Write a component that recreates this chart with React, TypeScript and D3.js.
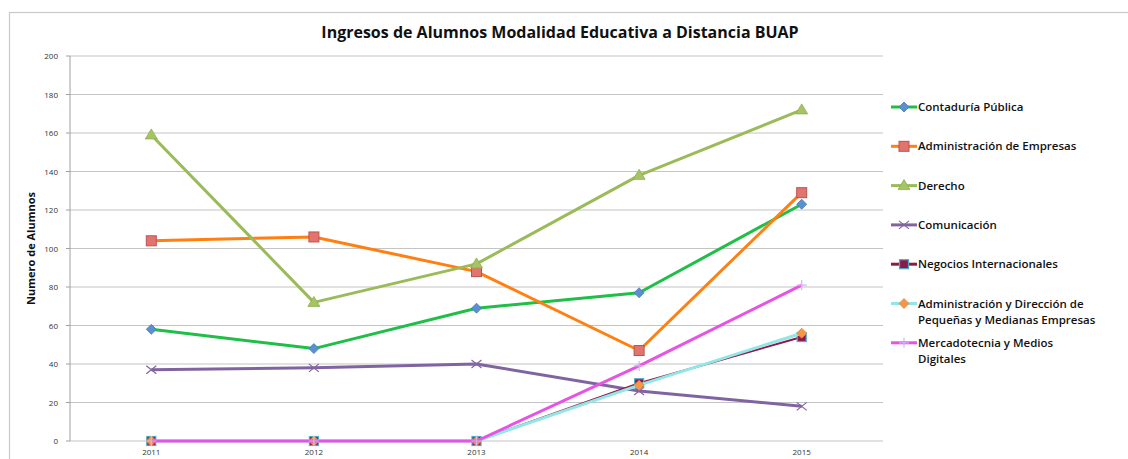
import React from "react";
import * as d3 from "d3";

const years = ["2011", "2012", "2013", "2014", "2015"];
const yTicks = [0, 20, 40, 60, 80, 100, 120, 140, 160, 180, 200];
const seriesNames = [
  "Contaduría Pública",
  "Administración de Empresas",
  "Derecho",
  "Comunicación",
  "Negocios Internacionales",
  "Administración y Dirección de Pequeñas y Medianas Empresas",
  "Mercadotecnia y Medios Digitales",
];
const contaduria = [58, 48, 69, 77, 123];
const administracion = [104, 106, 88, 47, 129];
const derecho = [159, 72, 92, 138, 172];
const comunicacion = [37, 38, 40, 26, 18];
const negocios = [0, 0, 0, 30, 54];
const adminPymes = [0, 0, 0, 29, 56];
const mercadotecnia = [0, 0, 0, 39, 81];
const legendLines = [
  ["Contaduría Pública"],
  ["Administración de Empresas"],
  ["Derecho"],
  ["Comunicación"],
  ["Negocios Internacionales"],
  ["Administración y Dirección de", "Pequeñas y Medianas Empresas"],
  ["Mercadotecnia y Medios", "Digitales"],
];

type Style = { line: string; width: number; marker: string; fill: string; stroke: string };
const styles: Style[] = [
  { line: "#1fbf47", width: 3, marker: "diamond", fill: "#5b8fd0", stroke: "#4a78b5" },
  { line: "#ff8011", width: 3, marker: "square", fill: "#e2746f", stroke: "#c0504d" },
  { line: "#9bbb59", width: 3, marker: "triangle", fill: "#a6c465", stroke: "#8eae4c" },
  { line: "#8064a2", width: 3, marker: "x", fill: "none", stroke: "#8064a2" },
  { line: "#8e1a4c", width: 2, marker: "square2", fill: "#8e1a4c", stroke: "#4bacc6" },
  { line: "#92e6e6", width: 3, marker: "diamond", fill: "#f79646", stroke: "#e8883c" },
  { line: "#e753e4", width: 3, marker: "plus", fill: "none", stroke: "#c9b8f0" },
];
const data = [contaduria, administracion, derecho, comunicacion, negocios, adminPymes, mercadotecnia];

const W = 1128, H = 459;
const M = { left: 70, right: 883, top: 56, bottom: 441 };
const FONT = "'Open Sans', 'Liberation Sans', sans-serif";

function Marker({ type, x, y, s }: { type: string; x: number; y: number; s: Style }) {
  const r = 5;
  if (type === "diamond")
    return <path d={`M${x},${y - r}L${x + r},${y}L${x},${y + r}L${x - r},${y}Z`} fill={s.fill} stroke={s.stroke} strokeWidth={0.8} />;
  if (type === "square")
    return <rect x={x - 5} y={y - 5} width={10} height={10} fill={s.fill} stroke={s.stroke} strokeWidth={1} />;
  if (type === "square2")
    return <rect x={x - 4.5} y={y - 4.5} width={9} height={9} fill={s.fill} stroke={s.stroke} strokeWidth={1.2} />;
  if (type === "triangle")
    return <path d={`M${x},${y - 6}L${x + 6},${y + 4}L${x - 6},${y + 4}Z`} fill={s.fill} stroke={s.stroke} strokeWidth={0.8} />;
  if (type === "x")
    return <path d={`M${x - 5},${y - 4}L${x + 5},${y + 4}M${x - 5},${y + 4}L${x + 5},${y - 4}`} stroke={s.stroke} strokeWidth={1.2} fill="none" />;
  return <path d={`M${x - 5},${y}L${x + 5},${y}M${x},${y - 5}L${x},${y + 5}`} stroke={s.stroke} strokeWidth={1.2} fill="none" />;
}

export default function App() {
  const x = d3.scaleBand<string>().domain(years).range([M.left, M.right]);
  const y = d3.scaleLinear().domain([0, 200]).range([M.bottom, M.top]);
  const cx = (yr: string) => (x(yr) as number) + x.bandwidth() / 2;
  const line = d3.line<number>().x((_, i) => cx(years[i])).y((v) => y(v));

  return (
    <svg width={W} height={H} style={{ position: "absolute", left: 0, top: 0, background: "#fff" }}>
      <rect x={9.5} y={12.5} width={1130} height={460} fill="#fff" stroke="#c8c8c8" strokeWidth={1.2} />
      <text x={560} y={38} textAnchor="middle" fontFamily={FONT} fontWeight={700} fontSize={16} fill="#111">
        Ingresos de Alumnos Modalidad Educativa a Distancia BUAP
      </text>
      {yTicks.map((t) => (
        <g key={t}>
          <line x1={M.left} x2={M.right} y1={y(t)} y2={y(t)} stroke="#c4c4c4" strokeWidth={1.2} />
          <line x1={M.left - 4} x2={M.left} y1={y(t)} y2={y(t)} stroke="#a0a0a0" />
          <text x={58} y={y(t) + 3} textAnchor="end" fontFamily={FONT} fontSize={8} fill="#333">{t}</text>
        </g>
      ))}
      <line x1={M.left} x2={M.left} y1={M.top} y2={M.bottom} stroke="#a0a0a0" strokeWidth={1} />
      {years.map((yr) => (
        <text key={yr} x={cx(yr)} y={455} textAnchor="middle" fontFamily={FONT} fontSize={8} fill="#333">{yr}</text>
      ))}
      <text transform={`translate(35,${(M.top + M.bottom) / 2}) rotate(-90)`} textAnchor="middle" fontFamily={FONT} fontWeight={700} fontSize={11} fill="#111">
        Numero de Alumnos
      </text>
      {data.map((vals, si) => (
        <g key={si}>
          <path d={line(vals) as string} fill="none" stroke={styles[si].line} strokeWidth={styles[si].width} strokeLinejoin="round" />
          {vals.map((v, i) => (
            <Marker key={i} type={styles[si].marker} x={cx(years[i])} y={y(v)} s={styles[si]} />
          ))}
        </g>
      ))}
      {seriesNames.map((name, si) => {
        const ly = 107 + si * 39.3;
        return (
          <g key={name}>
            <line x1={891} x2={917} y1={ly} y2={ly} stroke={styles[si].line} strokeWidth={3} />
            <Marker type={styles[si].marker} x={904} y={ly} s={styles[si]} />
            {legendLines[si].map((ln, li) => (
              <text key={li} x={918} y={ly + 4 + li * 16} fontFamily={FONT} fontWeight={600} fontSize={11.5} fill="#111">{ln}</text>
            ))}
          </g>
        );
      })}
    </svg>
  );
}
